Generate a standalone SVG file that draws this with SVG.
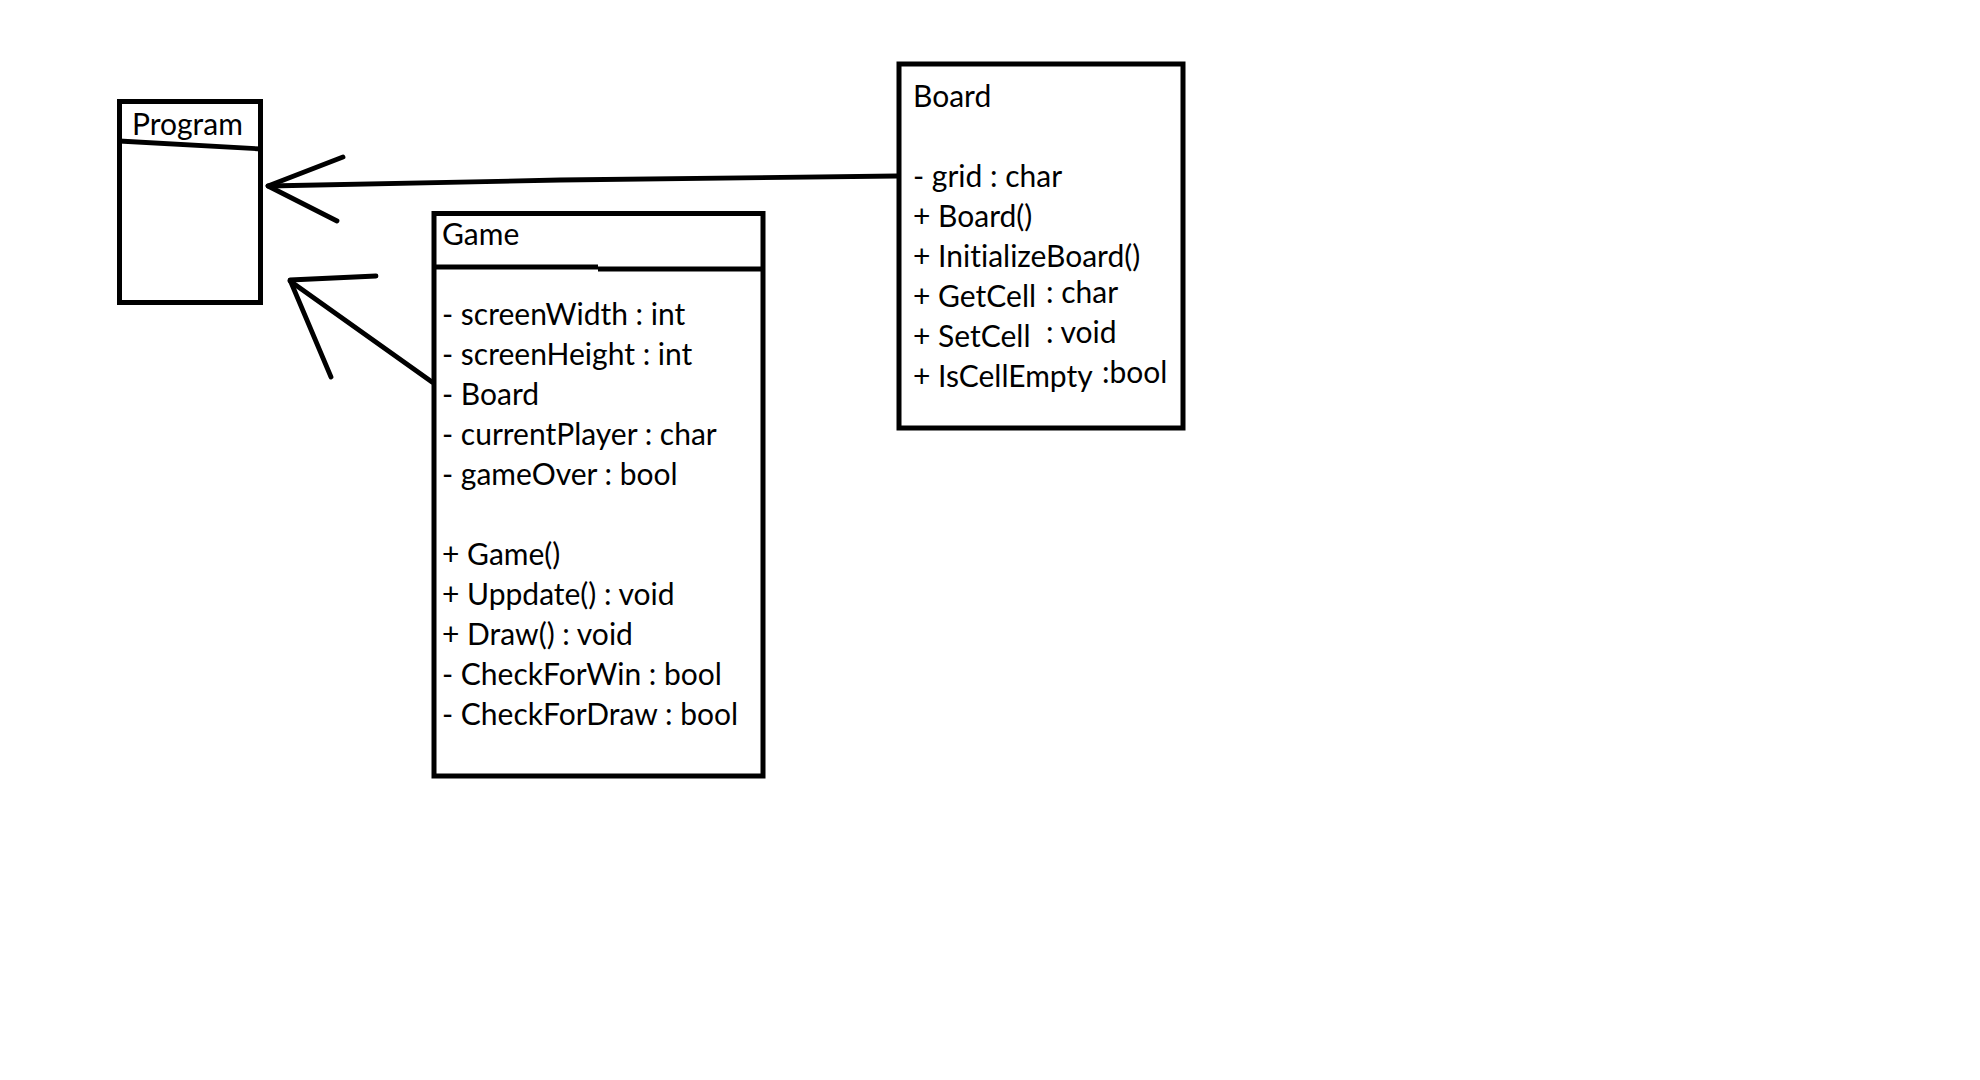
<svg xmlns="http://www.w3.org/2000/svg" width="1980" height="1080" viewBox="0 0 1980 1080">
<style>
.box{fill:#fff;stroke:#000;stroke-width:5}
.ln{fill:none;stroke:#000;stroke-width:4.8;stroke-linecap:round;stroke-linejoin:round}
text{font-family:Lato,"Liberation Sans",sans-serif;font-size:30px;fill:#000;font-variant-ligatures:none}
</style>
<rect width="1980" height="1080" fill="#fff"/>
<g id="connectors">
<polyline class="ln" points="897,176 560,180 268,186"/>
<polyline class="ln" points="343,157 268,186 337,221"/>
<line class="ln" x1="432" y1="382" x2="290" y2="281"/>
<polyline class="ln" points="376,276 290,280 331,377"/>
</g>
<g id="program">
<rect class="box" x="119.5" y="101.5" width="141" height="201"/>
<line class="ln" x1="119" y1="141" x2="261" y2="149" style="stroke-linecap:butt"/>
<text x="132" y="135">Program</text>
</g>
<g id="game">
<rect class="box" x="434" y="213.5" width="329" height="562.5"/>
<line class="ln" x1="434" y1="267" x2="598" y2="267" style="stroke-linecap:butt"/>
<line class="ln" x1="598" y1="269" x2="763" y2="269" style="stroke-linecap:butt"/>
<text x="442" y="245">Game</text>
<text x="442" y="325">- screenWidth : int</text>
<text x="442" y="365">- screenHeight : int</text>
<text x="442" y="405">- Board</text>
<text x="442" y="445">- currentPlayer : char</text>
<text x="442" y="485">- gameOver : bool</text>
<text x="442" y="565">+ Game()</text>
<text x="442" y="605">+ Uppdate() : void</text>
<text x="442" y="645">+ Draw() : void</text>
<text x="442" y="685">- CheckForWin : bool</text>
<text x="442" y="725">- CheckForDraw : bool</text>
</g>
<g id="board">
<rect class="box" x="899" y="64" width="284" height="364"/>
<text x="913" y="107">Board</text>
<text x="913" y="187">- grid : char</text>
<text x="913" y="227">+ Board()</text>
<text x="913" y="267">+ InitializeBoard()</text>
<text x="913" y="307">+ GetCell</text>
<text x="1046" y="303">: char</text>
<text x="913" y="347">+ SetCell</text>
<text x="1046" y="343">: void</text>
<text x="913" y="387">+ IsCellEmpty</text>
<text x="1102" y="383">:bool</text>
</g>
</svg>
